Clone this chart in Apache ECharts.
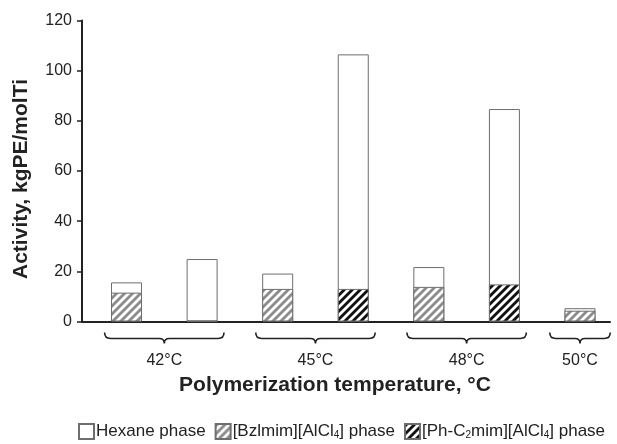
<!DOCTYPE html>
<html>
<head>
<meta charset="utf-8">
<script src="https://cdn.jsdelivr.net/npm/echarts@6/dist/echarts.min.js"></script>
<style>html,body{margin:0;padding:0;background:#fff}#c{width:617px;height:444px}</style>
</head>
<body>
<div id="c"></div>
<script>
// ---- data ----
const groupLabels = ['42°C', '45°C', '48°C', '50°C'];
const barGroup = [0, 0, 1, 1, 2, 2, 3];          // group index of each bar
const hexane = [4.1, 24.6, 6.1, 93.5, 7.9, 69.9, 1.0];
const bzlmim = [11.5, 0, 13.0, 0, 13.8, 0, 4.3];
const phc2mim = [0, 0.3, 0, 13.0, 0, 14.8, 0];
const yTicks = [0, 20, 40, 60, 80, 100, 120];

function hatch(color) {
  const s = 8;
  const c = document.createElement('canvas');
  c.width = s; c.height = s;
  const g = c.getContext('2d');
  g.fillStyle = '#fff'; g.fillRect(0, 0, s, s);
  g.fillStyle = color;
  g.beginPath();
  for (const o of [-s, 0, s]) {
    g.moveTo(o, s); g.lineTo(o + s / 2, s); g.lineTo(o + s + s / 2, 0); g.lineTo(o + s, 0); g.closePath();
  }
  g.fill();
  return { image: c, repeat: 'repeat' };
}

const xs = barGroup.map((_, i) => i + 1);
const pairs = arr => arr.map((v, i) => [xs[i], v > 0 ? v : null]);
// total height of each bar = ionic-liquid phase + hexane phase (hexane drawn on top of IL)
const totals = hexane.map((h, i) => h + bzlmim[i] + phc2mim[i]);

// brace data: [start bar x, end bar x, label]
const braces = groupLabels.map((lab, gi) => {
  const idx = xs.filter((_, i) => barGroup[i] === gi);
  return [Math.min(...idx), Math.max(...idx), lab];
});

const FONT = '"Liberation Sans", Arial, sans-serif';
const chart = echarts.init(document.getElementById('c'), null, { renderer: 'canvas' });
const border = { borderColor: '#6e6e6e', borderWidth: 1 };

chart.setOption({
  animation: false,
  textStyle: { fontFamily: FONT },
  grid: { left: 82, right: 7, top: 20.5, bottom: 122.5 },
  xAxis: {
    type: 'value', min: 0.411, max: 7.397,
    axisLine: { show: true, lineStyle: { color: '#222', width: 2 } },
    axisTick: { show: false }, axisLabel: { show: false }, splitLine: { show: false },
    name: 'Polymerization temperature, °C', nameLocation: 'middle', nameGap: 53,
    nameTextStyle: { fontSize: 21, fontWeight: 'bold', color: '#222', fontFamily: FONT, padding: [0, 22, 0, 0] }
  },
  yAxis: {
    type: 'value', min: yTicks[0], max: yTicks[yTicks.length - 1], interval: 20,
    axisLine: { show: true, lineStyle: { color: '#222', width: 2 } },
    axisTick: { show: true, inside: false, length: 5, lineStyle: { color: '#222', width: 1.5 } },
    axisLabel: { fontSize: 16, color: '#222', margin: 10, fontFamily: FONT },
    splitLine: { show: false },
    name: 'Activity, kgPE/molTi', nameLocation: 'middle', nameGap: 50,
    nameTextStyle: { fontSize: 21, fontWeight: 'bold', color: '#222', fontFamily: FONT, padding: [0, 16, 0, 0] }
  },
  legend: {
    left: 73, top: 418, itemWidth: 15, itemHeight: 15, itemGap: 9, icon: 'rect',
    data: ['Hexane phase', '[Bzlmim][AlCl4] phase', '[Ph-C2mim][AlCl4] phase'],
    formatter: n => n.replace('AlCl4', 'AlCl{s|4}').replace('C2', 'C{s|2}'),
    textStyle: {
      fontSize: 17, color: '#222', fontFamily: FONT, padding: [0, 0, 0, -3],
      rich: { s: { fontSize: 10, padding: [8, 0, 0, 0], color: '#222', fontFamily: FONT } }
    }
  },
  series: [
    { name: 'Hexane phase', type: 'bar', barWidth: 31, barGap: '-100%',
      data: pairs(totals), itemStyle: Object.assign({ color: '#fff' }, border) },
    { name: '[Bzlmim][AlCl4] phase', type: 'bar', barWidth: 31, barGap: '-100%',
      data: pairs(bzlmim), itemStyle: Object.assign({ color: hatch('#8c8c8c') }, border) },
    { name: '[Ph-C2mim][AlCl4] phase', type: 'bar', barWidth: 31, barGap: '-100%',
      data: pairs(phc2mim), itemStyle: Object.assign({ color: hatch('#111') }, border) },
    { type: 'custom', silent: true, clip: false, z: 5,
      data: braces.map(b => [b[0], b[1], 0]),
      encode: { x: [0, 1], y: 2 },
      renderItem: (params, api) => {
        const b = braces[params.dataIndex];
        const single = b[0] === b[1];
        const pad = single ? 0.4 : 0.29;
        const p0 = api.coord([api.value(0) - pad, 0]);
        const p1 = api.coord([api.value(1) + pad, 0]);
        const x0 = p0[0], x1 = p1[0], xc = (x0 + x1) / 2;
        const yT = p0[1] + 11, yM = p0[1] + 17, yB = p0[1] + 22;
        const path = `M${x0},${yT} Q${x0},${yM} ${x0 + 6},${yM} L${xc - 5},${yM} Q${xc},${yM} ${xc},${yB} Q${xc},${yM} ${xc + 5},${yM} L${x1 - 6},${yM} Q${x1},${yM} ${x1},${yT}`;
        return {
          type: 'group',
          children: [
            { type: 'path', shape: { pathData: path }, style: { fill: 'none', stroke: '#222', lineWidth: 1.6 } },
            { type: 'text', style: { text: b[2], x: xc, y: yB + 17, align: 'center', verticalAlign: 'middle',
              fontSize: 16, fill: '#222', fontFamily: FONT } }
          ]
        };
      }
    }
  ]
});
</script>
</body>
</html>
